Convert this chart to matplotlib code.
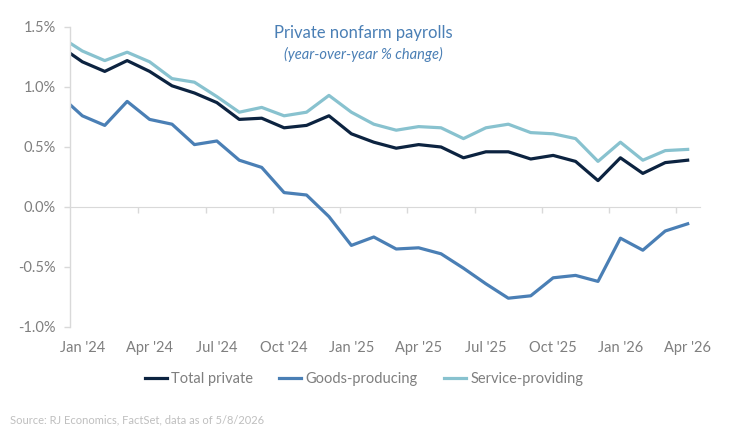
import matplotlib
matplotlib.use("Agg")
import matplotlib.pyplot as plt
import numpy as np

plt.rcParams['font.family'] = ['Lato', 'DejaVu Sans']

# monthly, Dec '23 .. Apr '26 (Dec '23 sits just off the left edge)
months = ["Dec '23",
          "Jan '24", "Feb '24", "Mar '24", "Apr '24", "May '24", "Jun '24",
          "Jul '24", "Aug '24", "Sep '24", "Oct '24", "Nov '24", "Dec '24",
          "Jan '25", "Feb '25", "Mar '25", "Apr '25", "May '25", "Jun '25",
          "Jul '25", "Aug '25", "Sep '25", "Oct '25", "Nov '25", "Dec '25",
          "Jan '26", "Feb '26", "Mar '26", "Apr '26"]

total_private = [1.34,
                 1.21, 1.13, 1.22, 1.13, 1.01, 0.95, 0.87, 0.73, 0.74, 0.66,
                 0.68, 0.76, 0.61, 0.54, 0.49, 0.52, 0.50, 0.41, 0.46, 0.46,
                 0.40, 0.43, 0.38, 0.22, 0.41, 0.28, 0.37, 0.39]
goods_producing = [0.93,
                   0.76, 0.68, 0.88, 0.73, 0.69, 0.52, 0.55, 0.39, 0.33, 0.12,
                   0.10, -0.08, -0.32, -0.25, -0.35, -0.34, -0.39, -0.51,
                   -0.64, -0.76, -0.74, -0.59, -0.57, -0.62, -0.26, -0.36,
                   -0.20, -0.14]
service_providing = [1.42,
                     1.30, 1.22, 1.29, 1.21, 1.07, 1.04, 0.92, 0.79, 0.83,
                     0.76, 0.79, 0.93, 0.79, 0.69, 0.64, 0.67, 0.66, 0.57,
                     0.66, 0.69, 0.62, 0.61, 0.57, 0.38, 0.54, 0.39, 0.47,
                     0.48]

tick_labels = ["Jan '24", "Apr '24", "Jul '24", "Oct '24", "Jan '25",
               "Apr '25", "Jul '25", "Oct '25", "Jan '26", "Apr '26"]

x = np.arange(len(months)) - 1  # Jan '24 -> 0

NAVY = '#0c2340'
STEEL = '#4a7fb5'
TEAL = '#88c2cf'
GRAY = '#7f7f7f'
LIGHT = '#d9d9d9'

fig = plt.figure(figsize=(7.43, 4.34), dpi=100)
ax = fig.add_axes([70 / 743, 107 / 434, 630 / 743, 300 / 434])

ax.plot(x, total_private, color=NAVY, lw=2.3, label='Total private')
ax.plot(x, goods_producing, color=STEEL, lw=2.3, label='Goods-producing')
ax.plot(x, service_providing, color=TEAL, lw=2.3, label='Service-providing')

ax.set_xlim(-0.55, 27.55)
ax.set_ylim(-1.0, 1.5)

for s in ['top', 'right', 'bottom']:
    ax.spines[s].set_visible(False)
ax.spines['left'].set_color(LIGHT)
ax.spines['left'].set_linewidth(1)

yt = np.arange(-1.0, 1.51, 0.5)
ax.set_yticks(yt)
ax.set_yticklabels([f'{v:.1f}%' for v in yt])
ax.tick_params(axis='y', colors=LIGHT, labelcolor=GRAY, labelsize=10.5,
               length=4, width=1, pad=6)

# month labels along the bottom, tick marks on the zero line
label_pos = [months.index(m) - 1 for m in tick_labels]
ax.set_xticks(label_pos)
ax.set_xticklabels(tick_labels)
ax.tick_params(axis='x', length=0, labelcolor=GRAY, labelsize=10.5, pad=10)

zero = ax.secondary_xaxis(0.4)
zero.set_xticks([p + 2.5 for p in label_pos])
zero.set_xticklabels([])
zero.spines['bottom'].set_color(LIGHT)
zero.tick_params(axis='x', colors=LIGHT, length=4, width=1)

fig.text(363 / 743, 1 - 33 / 434, 'Private nonfarm payrolls', ha='center',
         va='center', fontsize=12, color=STEEL)
fig.text(363 / 743, 1 - 54 / 434, '(year-over-year % change)', ha='center',
         va='center', fontsize=10.5, style='italic', color=STEEL)

fig.legend(loc='center', bbox_to_anchor=(364 / 743, 1 - 379 / 434), ncol=3,
           frameon=False, fontsize=10.5, handlelength=1.5, handletextpad=0.3,
           columnspacing=1.8, labelcolor=GRAY)

fig.text(10 / 743, 1 - 420 / 434, 'Source: RJ Economics, FactSet, data as of 5/8/2026',
         ha='left', va='center', fontsize=8, color='#bfbfbf')

fig.savefig('out.png', dpi=100)
